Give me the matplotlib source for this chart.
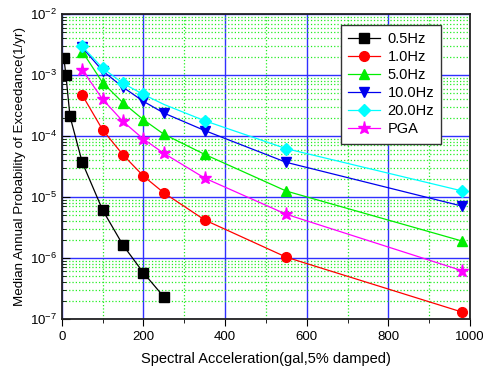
import matplotlib
matplotlib.use("Agg")
import matplotlib.pyplot as plt
from matplotlib.ticker import LogLocator, MultipleLocator, NullFormatter

plt.rcParams['font.family'] = ['Liberation Sans', 'DejaVu Sans']

# Spectral acceleration (gal)
x_05 = [5, 10, 20, 50, 100, 150, 200, 250]
x_other = [50, 100, 150, 200, 250, 350, 550, 980]

# Median annual probability of exceedance (1/yr)
hz_05 = [1.9e-3, 1.0e-3, 2.1e-4, 3.7e-5, 6.1e-6, 1.62e-6, 5.7e-7, 2.3e-7]
hz_10 = [4.7e-4, 1.26e-4, 4.9e-5, 2.2e-5, 1.17e-5, 4.2e-6, 1.03e-6, 1.3e-7]
hz_50 = [2.43e-3, 7.5e-4, 3.5e-4, 1.85e-4, 1.07e-4, 5.0e-5, 1.25e-5, 1.9e-6]
hz_100 = [2.83e-3, 1.17e-3, 6.3e-4, 3.7e-4, 2.38e-4, 1.23e-4, 3.7e-5, 7.1e-6]
hz_200 = [2.95e-3, 1.3e-3, 7.3e-4, 4.8e-4, 3.3e-4, 1.78e-4, 6.2e-5, 1.26e-5]
pga = [1.22e-3, 4.0e-4, 1.73e-4, 8.9e-5, 5.2e-5, 2.04e-5, 5.2e-6, 6.2e-7]

fig = plt.figure(figsize=(4.83, 3.70), dpi=100)
ax = fig.add_axes([0.128, 0.138, 0.845, 0.824])

ms = 6.5
ax.plot(x_05, hz_05, color='black', marker='s', ms=ms, lw=0.9, label='0.5Hz')
ax.plot(x_other, hz_10, color='red', marker='o', ms=ms + 0.5, lw=0.9, label='1.0Hz')
ax.plot(x_other, hz_50, color='#00ee00', marker='^', ms=ms + 1, lw=0.9, label='5.0Hz')
ax.plot(x_other, hz_100, color='#0000ee', marker='v', ms=ms + 1, lw=0.9, label='10.0Hz')
ax.plot(x_other, hz_200, color='cyan', marker='D', ms=ms - 0.5, lw=0.9,
        markevery=[0, 1, 2, 3, 5, 6, 7], label='20.0Hz')
ax.plot(x_other, pga, color='magenta', marker='*', ms=ms + 3, lw=0.9, label='PGA')

ax.set_yscale('log')
ax.set_xlim(0, 1000)
ax.set_ylim(1e-7, 1e-2)

ax.xaxis.set_major_locator(MultipleLocator(200))
ax.xaxis.set_minor_locator(MultipleLocator(100))
ax.yaxis.set_major_locator(LogLocator(base=10, numticks=10))
ax.yaxis.set_minor_locator(LogLocator(base=10, subs=range(2, 10), numticks=20))
ax.yaxis.set_minor_formatter(NullFormatter())

ax.grid(which='minor', color='#22ee22', linestyle=':', linewidth=0.9)
ax.grid(which='major', color='#3030ff', linestyle='-', linewidth=1.0)
ax.set_axisbelow(True)

ax.tick_params(axis='x', which='both', direction='out', labelsize=9.5)
ax.tick_params(axis='x', which='major', length=5)
ax.tick_params(axis='x', which='minor', length=3)
ax.tick_params(axis='y', which='both', direction='in', labelsize=9.5)
ax.tick_params(axis='y', which='major', length=6)
ax.tick_params(axis='y', which='minor', length=3)

for s in ax.spines.values():
    s.set_linewidth(1.3)
    s.set_color('#222222')

ax.set_xlabel('Spectral Acceleration(gal,5% damped)', fontsize=10.5, labelpad=7)
ax.set_ylabel('Median Annual Probability of Exceedance(1/yr)', fontsize=9.6, labelpad=3)

leg = ax.legend(loc='upper right', bbox_to_anchor=(0.93, 0.965), fontsize=10.5,
                fancybox=False, framealpha=1, edgecolor='#333333',
                handlelength=2.2, borderpad=0.5, labelspacing=0.28,
                handletextpad=0.5, borderaxespad=0)
leg.get_frame().set_linewidth(1.0)

fig.savefig('out.png', dpi=100)
